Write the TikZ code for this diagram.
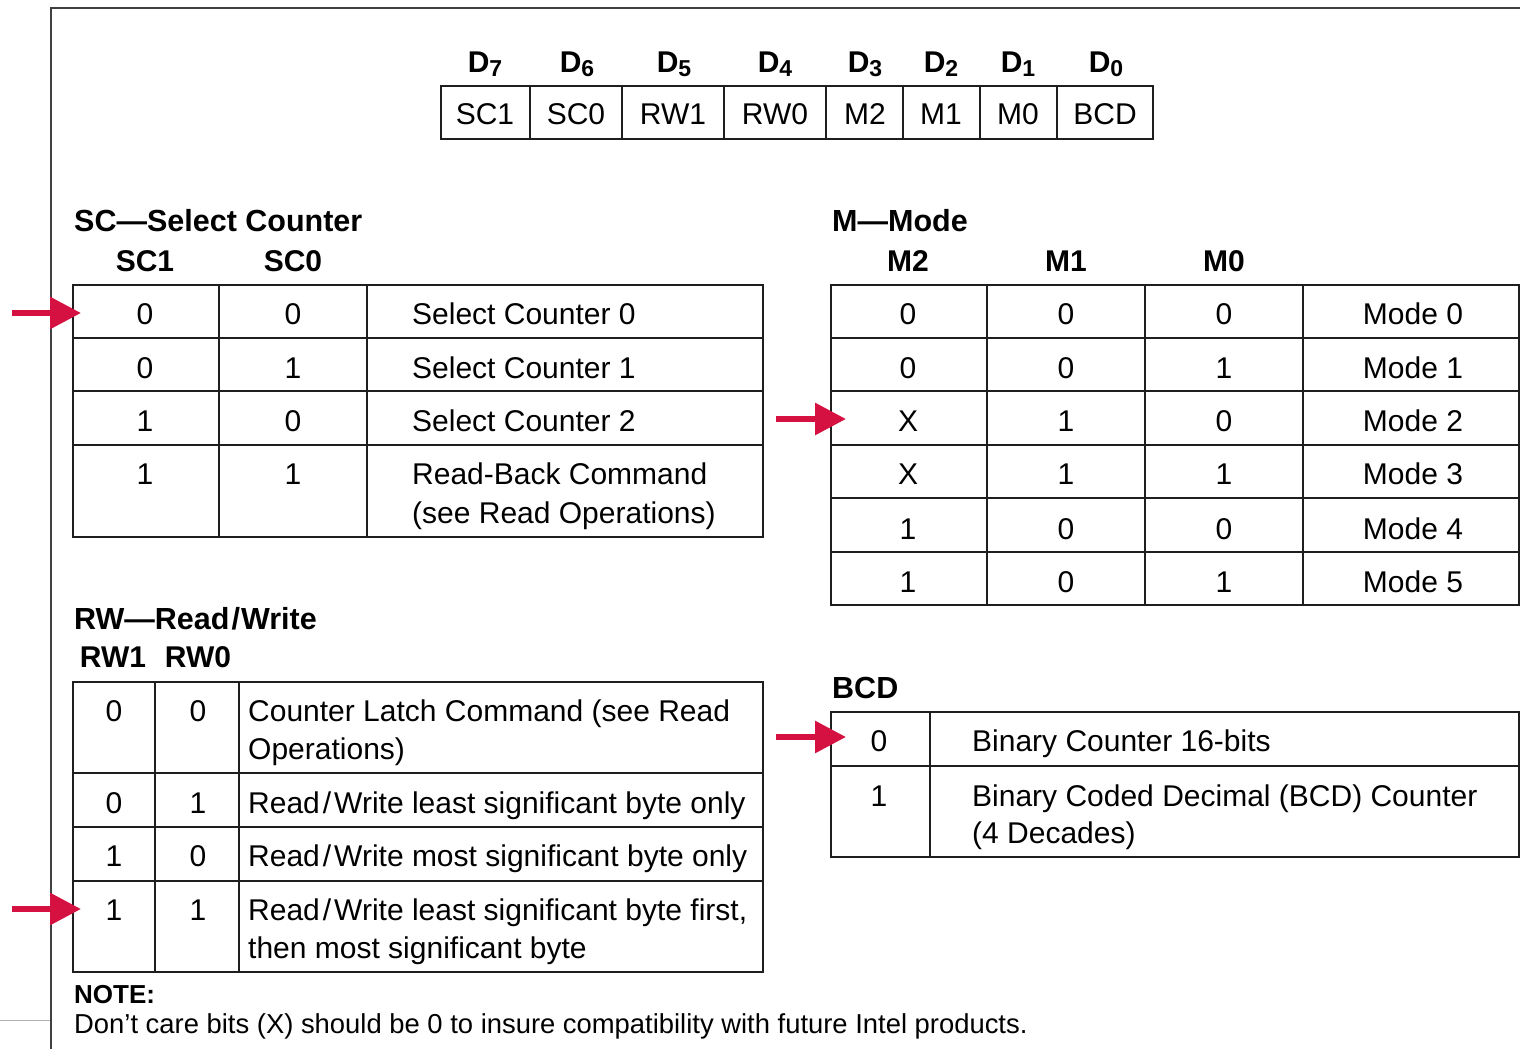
\documentclass[tikz,border=0pt]{standalone}
\usepackage{fontspec}
\setmainfont{Liberation Sans}
\usetikzlibrary{arrows.meta}
\definecolor{arrowred}{RGB}{213,17,65}
\definecolor{gridcol}{RGB}{30,30,30}
\newcommand{\dsub}[1]{\raisebox{-5pt}{\fontsize{23}{26}\selectfont\bfseries #1}}
\tikzset{
  grid/.style={line width=1.8pt, draw=gridcol},
  frame/.style={line width=2pt, draw=black!75},
  txt/.style={anchor=base, inner sep=0pt, font=\fontsize{30}{36}\selectfont},
  ltxt/.style={anchor=base west, inner sep=0pt, font=\fontsize{30}{36}\selectfont},
  hdr/.style={anchor=base west, inner sep=0pt, font=\fontsize{30.5}{36}\selectfont\bfseries},
  chdr/.style={anchor=base, inner sep=0pt, font=\fontsize{30}{36}\selectfont\bfseries},
  pointer/.style={line width=6pt, draw=arrowred, -{Triangle[length=31pt,width=31pt,fill=arrowred]}}
}
\begin{document}
\begin{tikzpicture}[x=1pt,y=-1pt]
\useasboundingbox (0,0) rectangle (1520,1049);
% frame
\draw[frame] (51,1049) -- (51,8) -- (1520,8);
\draw[line width=1pt, draw=black!30] (0,1020) -- (50,1020);

% register
\draw[grid] (441,86) rectangle (1153,139);
\foreach \x in {530,622,724,826,903,980,1057} \draw[grid] (\x,86) -- (\x,139);
\node[chdr] (d7) at (485,72) {D\dsub{7}};
\node[chdr] (d6) at (577,72) {D\dsub{6}};
\node[chdr] (d5) at (674,72) {D\dsub{5}};
\node[chdr] (d4) at (775,72) {D\dsub{4}};
\node[chdr] (d3) at (865,72) {D\dsub{3}};
\node[chdr] (d2) at (941,72) {D\dsub{2}};
\node[chdr] (d1) at (1018,72) {D\dsub{1}};
\node[chdr] (d0) at (1106,72) {D\dsub{0}};
\node[txt] (r7) at (485,124) {SC1};
\node[txt] (r6) at (576,124) {SC0};
\node[txt] (r5) at (673,124) {RW1};
\node[txt] (r4) at (775,124) {RW0};
\node[txt] (r3) at (865,124) {M2};
\node[txt] (r2) at (941,124) {M1};
\node[txt] (r1) at (1018,124) {M0};
\node[txt] (r0) at (1105,124) {BCD};

% SC table
\node[hdr] (schead) at (74,231) {SC—Select Counter};
\node[chdr] (sc1h) at (145,271) {SC1};
\node[chdr] (sc0h) at (293,271) {SC0};
\draw[grid] (73,285) rectangle (763,537);
\foreach \y in {338,391,445} \draw[grid] (73,\y) -- (763,\y);
\foreach \x in {219,367} \draw[grid] (\x,285) -- (\x,537);
\node[txt] (sca1) at (145,324) {0}; \node[txt] (scb1) at (293,324) {0}; \node[ltxt] (scc1) at (412,324) {Select Counter 0};
\node[txt] (sca2) at (145,378) {0}; \node[txt] (scb2) at (293,378) {1}; \node[ltxt] (scc2) at (412,378) {Select Counter 1};
\node[txt] (sca3) at (145,431) {1}; \node[txt] (scb3) at (293,431) {0}; \node[ltxt] (scc3) at (412,431) {Select Counter 2};
\node[txt] (sca4) at (145,484) {1}; \node[txt] (scb4) at (293,484) {1}; \node[ltxt] (scc4) at (412,484) {Read-Back Command};
\node[ltxt] (scc4b) at (412,523) {(see Read Operations)};

% M table
\node[hdr] (mhead) at (832,231) {M—Mode};
\node[chdr] (m2h) at (908,271) {M2};
\node[chdr] (m1h) at (1066,271) {M1};
\node[chdr] (m0h) at (1224,271) {M0};
\draw[grid] (831,285) rectangle (1519,605);
\foreach \y in {338,391,445,498,552} \draw[grid] (831,\y) -- (1519,\y);
\foreach \x in {987,1145,1303} \draw[grid] (\x,285) -- (\x,605);
\node[txt] (ma1) at (908,324) {0}; \node[txt] (mb1) at (1066,324) {0}; \node[txt] (mc1) at (1224,324) {0}; \node[txt] (md1) at (1413,324) {Mode 0};
\node[txt] (ma2) at (908,378) {0}; \node[txt] (mb2) at (1066,378) {0}; \node[txt] (mc2) at (1224,378) {1}; \node[txt] (md2) at (1413,378) {Mode 1};
\node[txt] (ma3) at (908,431) {X}; \node[txt] (mb3) at (1066,431) {1}; \node[txt] (mc3) at (1224,431) {0}; \node[txt] (md3) at (1413,431) {Mode 2};
\node[txt] (ma4) at (908,484) {X}; \node[txt] (mb4) at (1066,484) {1}; \node[txt] (mc4) at (1224,484) {1}; \node[txt] (md4) at (1413,484) {Mode 3};
\node[txt] (ma5) at (908,539) {1}; \node[txt] (mb5) at (1066,539) {0}; \node[txt] (mc5) at (1224,539) {0}; \node[txt] (md5) at (1413,539) {Mode 4};
\node[txt] (ma6) at (908,592) {1}; \node[txt] (mb6) at (1066,592) {0}; \node[txt] (mc6) at (1224,592) {1}; \node[txt] (md6) at (1413,592) {Mode 5};

% RW table
\node[hdr] (rwhead) at (74,629) {RW—Read\kern2pt/\kern1pt Write};
\node[chdr] (rw1h) at (113,667) {RW1};
\node[chdr] (rw0h) at (198,667) {RW0};
\draw[grid] (73,682) rectangle (763,972);
\foreach \y in {773,827,881} \draw[grid] (73,\y) -- (763,\y);
\foreach \x in {155,239} \draw[grid] (\x,682) -- (\x,972);
\node[txt] (rwa1) at (114,721) {0}; \node[txt] (rwb1) at (198,721) {0}; \node[ltxt] (rwc1) at (248,721) {Counter Latch Command (see Read};
\node[ltxt] (rwc1b) at (248,759) {Operations)};
\node[txt] (rwa2) at (114,813) {0}; \node[txt] (rwb2) at (198,813) {1}; \node[ltxt] (rwc2) at (248,813) {Read\kern3pt/\kern3pt Write least significant byte only};
\node[txt] (rwa3) at (114,866) {1}; \node[txt] (rwb3) at (198,866) {0}; \node[ltxt] (rwc3) at (248,866) {Read\kern3pt/\kern3pt Write most significant byte only};
\node[txt] (rwa4) at (114,920) {1}; \node[txt] (rwb4) at (198,920) {1}; \node[ltxt] (rwc4) at (248,920) {Read\kern3pt/\kern3pt Write least significant byte first,};
\node[ltxt] (rwc4b) at (248,958) {then most significant byte};

% BCD table
\node[hdr] (bcdhead) at (832,698) {BCD};
\draw[grid] (831,712) rectangle (1519,857);
\draw[grid] (831,766) -- (1519,766);
\draw[grid] (930,712) -- (930,857);
\node[txt] (ba1) at (879,751) {0}; \node[ltxt] (bb1) at (972,751) {Binary Counter 16-bits};
\node[txt] (ba2) at (879,806) {1}; \node[ltxt] (bb2) at (972,806) {Binary Coded Decimal (BCD) Counter};
\node[ltxt] (bb2b) at (972,843) {(4 Decades)};

% note
\node[anchor=base west, inner sep=0pt, font=\fontsize{26}{30}\selectfont\bfseries] (note) at (74,1003) {NOTE:};
\node[anchor=base west, inner sep=0pt, font=\fontsize{27.4}{30}\selectfont] (notetxt) at (74,1033) {Don’t care bits (X) should be 0 to insure compatibility with future Intel products.};

% pointers
\coordinate (p1s) at (12,313); \coordinate (p1t) at (81,313);
\coordinate (p2s) at (776,419); \coordinate (p2t) at (846,419);
\coordinate (p3s) at (776,737); \coordinate (p3t) at (846,737);
\coordinate (p4s) at (12,909); \coordinate (p4t) at (81,909);
\draw[pointer] (p1s) -- (p1t);
\draw[pointer] (p2s) -- (p2t);
\draw[pointer] (p3s) -- (p3t);
\draw[pointer] (p4s) -- (p4t);
\end{tikzpicture}
\end{document}
